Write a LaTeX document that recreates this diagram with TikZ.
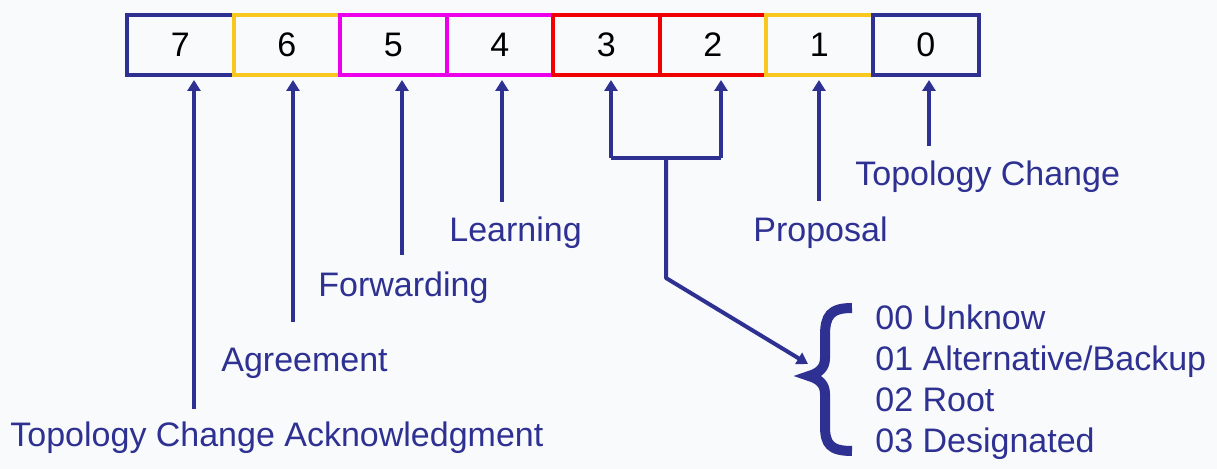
\documentclass[tikz,border=0pt]{standalone}
\usepackage{fontspec}
\setmainfont{Liberation Sans}
\usetikzlibrary{arrows.meta,positioning,calc}

\definecolor{navy}{RGB}{46,49,146}
\definecolor{gold}{RGB}{248,200,30}
\definecolor{pink}{RGB}{236,0,236}
\definecolor{flagred}{RGB}{240,0,0}
\definecolor{paper}{RGB}{248,250,251}

\tikzset{
  bit/.style={draw,line width=2pt,minimum width=53.25pt,minimum height=30pt,
    inner sep=0pt,outer sep=0pt,font=\fontsize{17}{20}\selectfont},
  flag/.style={anchor=base west,inner sep=0pt,text=navy,font=\fontsize{17}{20}\selectfont},
  pointer/.style={navy,line width=2pt,-{Triangle[length=5.5pt,width=6.5pt]}},
}

\begin{document}
\begin{tikzpicture}[x=0.5pt,y=-0.5pt]

  \fill[paper] (0,0) rectangle (1217,469);
  \useasboundingbox (0,0) rectangle (1217,469);

  % flags byte, bit 7 on the left
  \node[bit,draw=navy] (b7) at (180.25,45) {7};
  \node[bit,draw=gold,right=0pt of b7] (b6) {6};
  \node[bit,draw=pink,right=0pt of b6] (b5) {5};
  \node[bit,draw=pink,right=0pt of b5] (b4) {4};
  \node[bit,draw=flagred,right=0pt of b4] (b3) {3};
  \node[bit,draw=flagred,right=0pt of b3] (b2) {2};
  \node[bit,draw=gold,right=0pt of b2] (b1) {1};
  \node[bit,draw=navy,right=0pt of b1] (b0) {0};

  \node[flag] (tca) at (10,447) {Topology Change Acknowledgment};
  \node[flag] (agree) at (221,372) {Agreement};
  \node[flag] (fwd) at (318,297) {Forwarding};
  \node[flag] (learn) at (449,242) {Learning};
  \node[flag] (prop) at (753,242) {Proposal};
  \node[flag] (tc) at (855,186) {Topology Change};

  \coordinate (e7) at (194,409);
  \coordinate (e6) at (293,322);
  \coordinate (e5) at (402,255);
  \coordinate (e4) at (502,202);
  \coordinate (e1) at (819,201);
  \coordinate (e0) at (929,146);
  \draw[pointer,shorten >=2.5pt] (e7) -- (e7 |- b7.south);
  \draw[pointer,shorten >=2.5pt] (e6) -- (e6 |- b6.south);
  \draw[pointer,shorten >=2.5pt] (e5) -- (e5 |- b5.south);
  \draw[pointer,shorten >=2.5pt] (e4) -- (e4 |- b4.south);
  \draw[pointer,shorten >=2.5pt] (e1) -- (e1 |- b1.south);
  \draw[pointer,shorten >=2.5pt] (e0) -- (e0 |- b0.south);

  % bits 3 and 2 together give the port role
  \coordinate (j3) at (611,158);
  \coordinate (j2) at (721,158);
  \draw[pointer,shorten >=2.5pt] (j3) -- (j3 |- b3.south);
  \draw[pointer,shorten >=2.5pt] (j2) -- (j2 |- b2.south);
  \draw[navy,line width=2pt] (j3) -- (j2);
  \coordinate (stem) at ($(j3)!0.5!(j2)$);
  \coordinate (knee) at (666,278);
  \coordinate (tip) at (808,364);
  \draw[pointer,line join=round] (stem) -- (knee) -- (tip);

  \draw[navy,line width=5pt] (852,308) .. controls (830,308) and (825,316) .. (825,336)
    -- (825,358) .. controls (825,368) and (819,373) .. (809,376)
    .. controls (819,379) and (825,384) .. (825,394)
    -- (825,426) .. controls (825,444) and (830,451) .. (852,451);

  \node[flag] (role0) at (875,330) {00 Unknow};
  \node[flag] (role1) at (875,371) {01 Alternative/Backup};
  \node[flag] (role2) at (875,412) {02 Root};
  \node[flag] (role3) at (875,453) {03 Designated};

\end{tikzpicture}
\end{document}
